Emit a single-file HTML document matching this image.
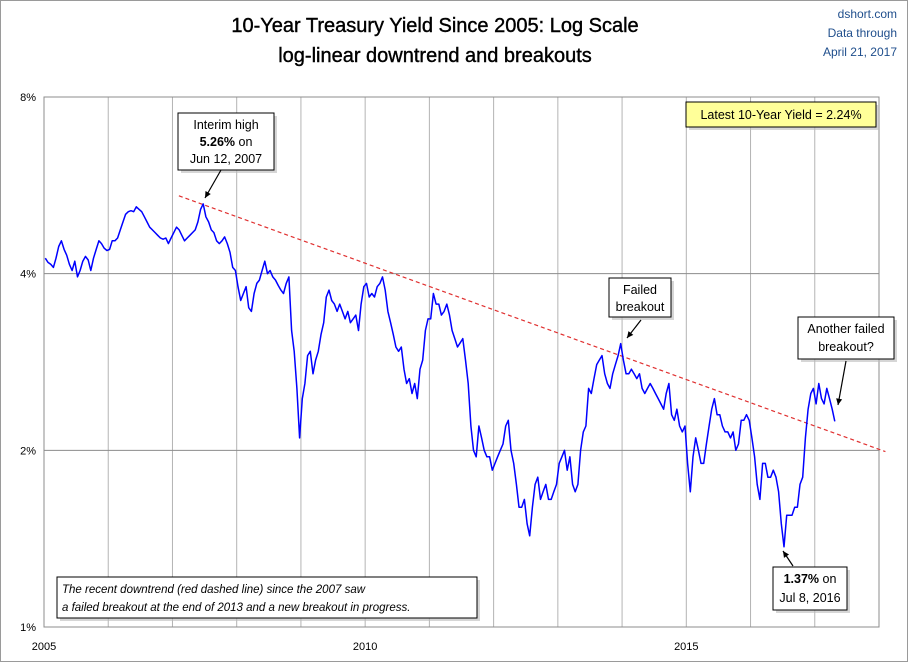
<!DOCTYPE html>
<html><head><meta charset="utf-8">
<style>
html,body{margin:0;padding:0;background:#fff;}
#wrap{width:908px;height:662px;position:relative;overflow:hidden;}
svg{font-family:"Liberation Sans",sans-serif;}
</style></head>
<body>
<div id="wrap">
<svg id="chart" width="908" height="662">
<rect x="0.5" y="0.5" width="907" height="661" fill="#fff" stroke="#9a9a9a"/>
<text x="435" y="32" text-anchor="middle" font-size="20" fill="#000" stroke="#000" stroke-width="0.4">10-Year Treasury Yield Since 2005: Log Scale</text>
<text x="435" y="62" text-anchor="middle" font-size="20" fill="#000" stroke="#000" stroke-width="0.4">log-linear downtrend and breakouts</text>
<text x="897" y="18" text-anchor="end" font-size="12" fill="#1f4e8c">dshort.com</text>
<text x="897" y="37" text-anchor="end" font-size="12" fill="#1f4e8c">Data through</text>
<text x="897" y="56" text-anchor="end" font-size="12" fill="#1f4e8c">April 21, 2017</text>
<g id="grid"></g>
<g id="axes"></g>
<g id="series"></g>
<g id="annot"></g>
</svg>
</div>
<script>
const xTicks = [2005, 2010, 2015];
const yTicks = [1, 2, 4, 8];
const yTickLabels = ["1%", "2%", "4%", "8%"];
const trendDates = [2007.1, 2018.1];
const trendValues = [5.43, 1.99];
const yields = [
4.25,4.18,4.15,4.10,4.25,4.45,4.55,4.40,4.30,4.15,4.05,4.20,3.95,4.05,4.20,4.28,4.22,4.05,4.25,4.40,4.55,4.50,4.42,4.38,
4.40,4.55,4.55,4.60,4.75,4.90,5.05,5.10,5.12,5.10,5.20,5.15,5.10,5.00,4.90,4.80,4.75,4.70,4.65,4.60,4.58,4.60,4.50,4.60,
4.70,4.80,4.75,4.65,4.55,4.60,4.65,4.70,4.75,4.90,5.15,5.26,5.00,4.90,4.75,4.70,4.55,4.50,4.55,4.62,4.50,4.35,4.10,4.05,
3.80,3.60,3.70,3.80,3.50,3.45,3.70,3.85,3.90,4.05,4.20,4.00,4.05,3.95,3.90,3.82,3.75,3.70,3.85,3.95,3.20,2.95,2.55,2.10,
2.45,2.60,2.90,2.95,2.70,2.85,2.95,3.15,3.30,3.65,3.75,3.60,3.55,3.45,3.55,3.45,3.35,3.45,3.30,3.35,3.40,3.20,3.55,3.80,
3.85,3.65,3.70,3.65,3.80,3.85,3.95,3.75,3.45,3.30,3.15,3.00,2.95,3.00,2.75,2.60,2.65,2.50,2.60,2.45,2.75,2.85,3.20,3.35,
3.35,3.70,3.55,3.55,3.40,3.45,3.55,3.40,3.20,3.10,3.00,3.05,3.10,2.85,2.60,2.20,2.00,1.95,2.20,2.10,2.00,1.95,1.95,1.85,
1.90,1.95,2.00,2.05,2.20,2.25,2.00,1.90,1.75,1.60,1.60,1.65,1.50,1.43,1.60,1.75,1.80,1.65,1.70,1.75,1.65,1.65,1.70,1.75,
1.90,1.95,2.00,1.85,1.95,1.75,1.70,1.75,2.00,2.15,2.20,2.55,2.50,2.65,2.80,2.85,2.90,2.70,2.60,2.55,2.70,2.80,2.90,3.04,
2.85,2.70,2.70,2.75,2.70,2.65,2.70,2.55,2.50,2.55,2.60,2.55,2.50,2.45,2.40,2.35,2.50,2.60,2.30,2.25,2.35,2.20,2.15,2.20,
1.90,1.70,1.95,2.10,2.00,1.90,1.90,2.05,2.20,2.35,2.45,2.30,2.30,2.20,2.15,2.15,2.10,2.15,2.00,2.05,2.25,2.25,2.30,2.25,
2.10,1.95,1.75,1.65,1.90,1.90,1.80,1.80,1.85,1.80,1.70,1.50,1.37,1.55,1.55,1.55,1.60,1.60,1.75,1.80,2.10,2.35,2.50,2.55,
2.40,2.60,2.45,2.40,2.55,2.45,2.35,2.24
];
const dates = yields.map((v,i)=>2005 + i/24 + 1/48);

const L=44,R=879,T=97,B=627, X0=2005, X1=2018;
const NS="http://www.w3.org/2000/svg";
function xs(d){return L+(d-X0)/(X1-X0)*(R-L);}
function ys(v){return B-(Math.log2(v)-Math.log2(1))/(Math.log2(8))*(B-T);}
function mk(tag,attrs,parent){const e=document.createElementNS(NS,tag);for(const k in attrs)e.setAttribute(k,attrs[k]);parent.appendChild(e);return e;}

const grid=document.getElementById('grid');
for(let yr=X0+1; yr<X1; yr++){
  const l=mk('line',{x1:xs(yr),x2:xs(yr),y1:T,y2:B,stroke:'#b4b4b4','stroke-width':1},grid);
  
  
}
yTicks.forEach((v,i)=>{
  const l=mk('line',{x1:L,x2:R,y1:ys(v),y2:ys(v),stroke:'#8c8c8c','stroke-width':1},grid);
  
  
});
const fr=mk('rect',{x:L,y:T,width:R-L,height:B-T,fill:'none',stroke:'#8c8c8c'},grid);



const axes=document.getElementById('axes');
yTicks.forEach((v,i)=>{
  const t=mk('text',{x:L-8,y:ys(v)+4,'text-anchor':'end','font-size':11},axes);
  t.textContent=yTickLabels[i];
  
  
});
xTicks.forEach(v=>{
  const t=mk('text',{x:xs(v),y:650,'text-anchor':'middle','font-size':11},axes);
  t.textContent=String(v);
  
  
});

const series=document.getElementById('series');
const tl=mk('line',{x1:xs(trendDates[0]),y1:ys(trendValues[0]),x2:xs(trendDates[1]),y2:ys(trendValues[1]),stroke:'#e03030','stroke-width':1.2,'stroke-dasharray':'4,3'},series);


const pts=dates.map((d,i)=>xs(d).toFixed(1)+','+ys(yields[i]).toFixed(1)).join(' ');
const pl=mk('polyline',{points:pts,fill:'none',stroke:'#0000ff','stroke-width':1.5,'stroke-linejoin':'round'},series);



const an=document.getElementById('annot');
function box(x,y,w,h,name,fill){
  mk('rect',{x:x+3,y:y+3,width:w,height:h,fill:'#bbb',opacity:0.6},an);
  const r=mk('rect',{x:x,y:y,width:w,height:h,fill:fill||'#fff',stroke:'#000','stroke-width':1},an);
  
  
}
function txt(x,y,s,name,opts){
  const t=mk('text',Object.assign({x:x,y:y,'text-anchor':'middle','font-size':12.5},opts||{}),an);
  t.innerHTML=s;
  
  
}
function arrow(x1,y1,x2,y2,name){
  const l=mk('line',{x1:x1,y1:y1,x2:x2,y2:y2,stroke:'#000','stroke-width':1.2},an);
  
  
  const a=Math.atan2(y2-y1,x2-x1),s=7;
  const p=[[x2,y2],[x2-s*Math.cos(a-0.45),y2-s*Math.sin(a-0.45)],[x2-s*Math.cos(a+0.45),y2-s*Math.sin(a+0.45)]];
  mk('polygon',{points:p.map(q=>q.join(',')).join(' '),fill:'#000'},an);
}
box(686,102,190,25,'latest-yield-box','#ffff99');
txt(781,119,'Latest 10-Year Yield = 2.24%','latest-yield-label');
box(178,113,96,57,'interim-high-box');
txt(226,129,'Interim high','interim-high-label');
txt(226,146,'<tspan font-weight="bold">5.26%</tspan> on','interim-high-value');
txt(226,163,'Jun 12, 2007','interim-high-date');
arrow(221,170,205,198,'interim-high-arrow');
box(609,278,62,39,'failed-breakout-box');
txt(640,294,'Failed','failed-breakout-label');
txt(640,311,'breakout','failed-breakout-label-2');
arrow(641,320,627,338,'failed-breakout-arrow');
box(798,317,96,42,'another-breakout-box');
txt(846,333,'Another failed','another-breakout-label');
txt(846,351,'breakout?','another-breakout-label-2');
arrow(846,361,838,405,'another-breakout-arrow');
box(773,567,74,43,'low-box');
txt(810,583,'<tspan font-weight="bold">1.37%</tspan> on','low-value');
txt(810,602,'Jul 8, 2016','low-date');
arrow(793,566,783,551,'low-arrow');
box(57,577,420,41,'note-box');
txt(62,593,'The recent downtrend (red dashed line) since the 2007 saw','note-line-1',{'text-anchor':'start','font-style':'italic','font-size':11.5});
txt(62,611,'a failed breakout at the end of 2013  and a new breakout in progress.','note-line-2',{'text-anchor':'start','font-style':'italic','font-size':11.5});
</script>
</body></html>
